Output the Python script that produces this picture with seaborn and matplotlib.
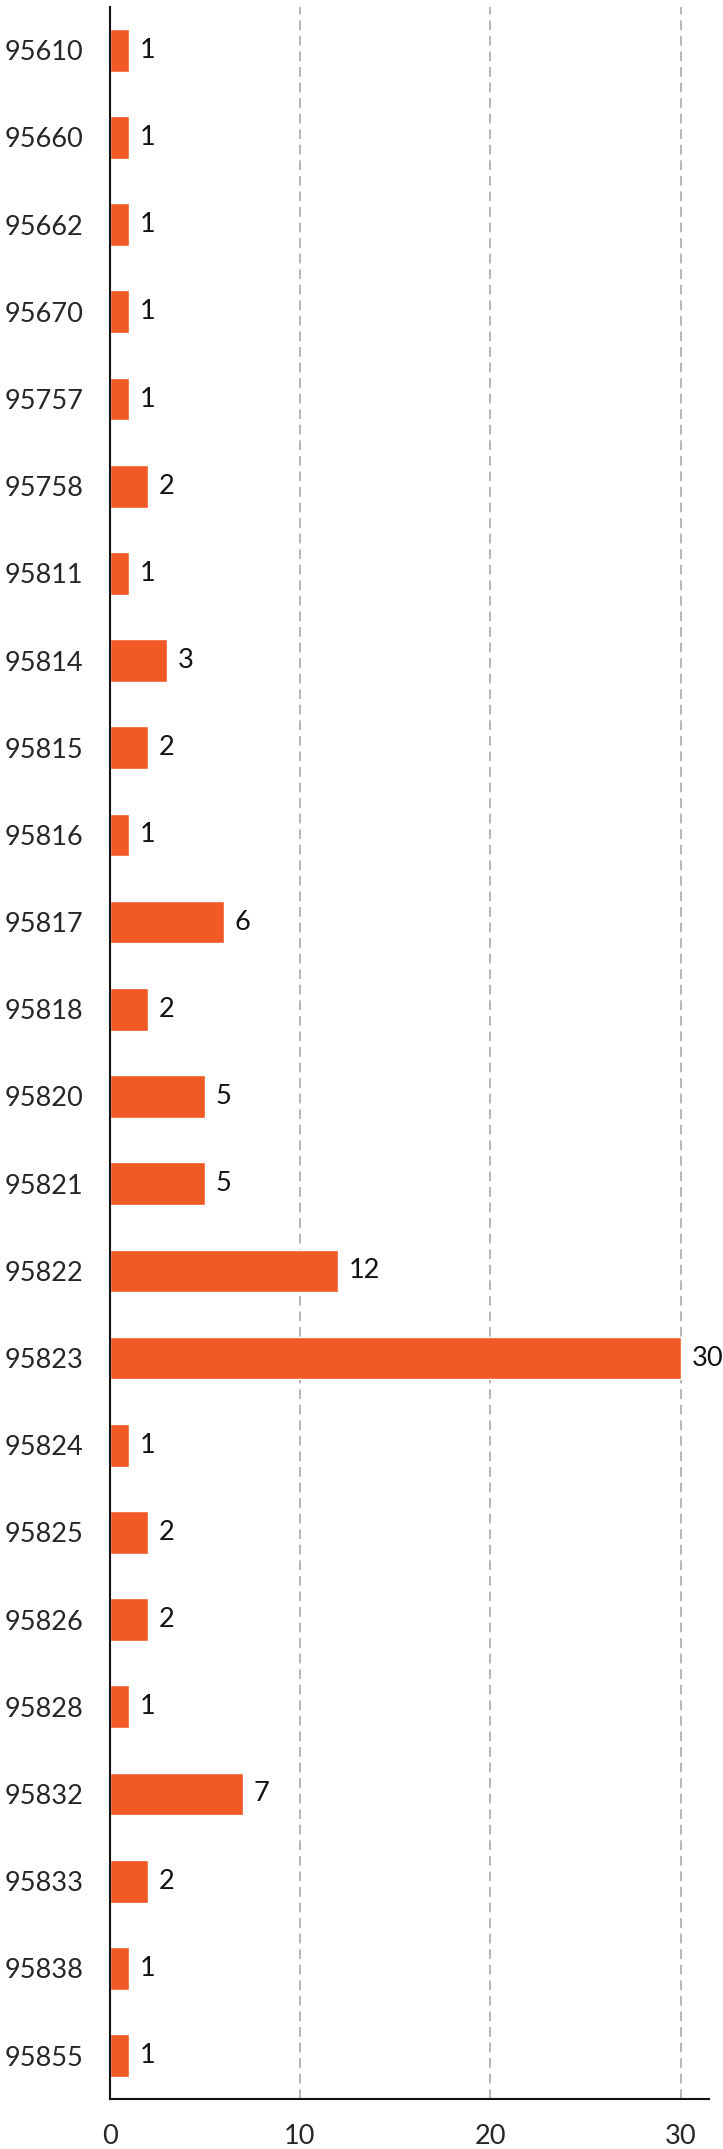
import matplotlib
matplotlib.use("Agg")
import matplotlib.pyplot as plt
import seaborn as sns
import pandas as pd

# zip codes and counts
zips = ["95610", "95660", "95662", "95670", "95757", "95758", "95811", "95814",
        "95815", "95816", "95817", "95818", "95820", "95821", "95822", "95823",
        "95824", "95825", "95826", "95828", "95832", "95833", "95838", "95855"]
counts = [1, 1, 1, 1, 1, 2, 1, 3, 2, 1, 6, 2, 5, 5, 12, 30, 1, 2, 2, 1, 7, 2, 1, 1]
x_ticks = [0, 10, 20, 30]

df = pd.DataFrame({"zip": zips, "count": counts})

sns.set_style("white")
plt.rcParams["font.family"] = ["Lato", "DejaVu Sans"]

fig = plt.figure(figsize=(7.23, 21.49), dpi=100)
ax = fig.add_axes([0.1515, 0.0232, 0.8295, 0.9737])

sns.barplot(data=df, x="count", y="zip", color="#F15A25", saturation=1,
            width=0.49, ax=ax)
ax.bar_label(ax.containers[0], padding=8, fontsize=19.5, color="#111111")

ax.set_xlim(0, 31.5)
ax.set_ylim(23.5, -0.5)
ax.set_xticks(x_ticks)
ax.set_xlabel("")
ax.set_ylabel("")
ax.tick_params(axis="y", length=0, pad=19, labelsize=19.5)
ax.tick_params(axis="x", length=0, pad=18, labelsize=19.5)

for v in x_ticks[1:]:
    ax.axvline(v, color="#b5b5b5", linestyle=(0, (5, 3)), linewidth=1.4, zorder=0)

sns.despine(ax=ax)
for s in ["left", "bottom"]:
    ax.spines[s].set_color("#111111")
    ax.spines[s].set_linewidth(1.5)

fig.savefig("out.png", dpi=100)
